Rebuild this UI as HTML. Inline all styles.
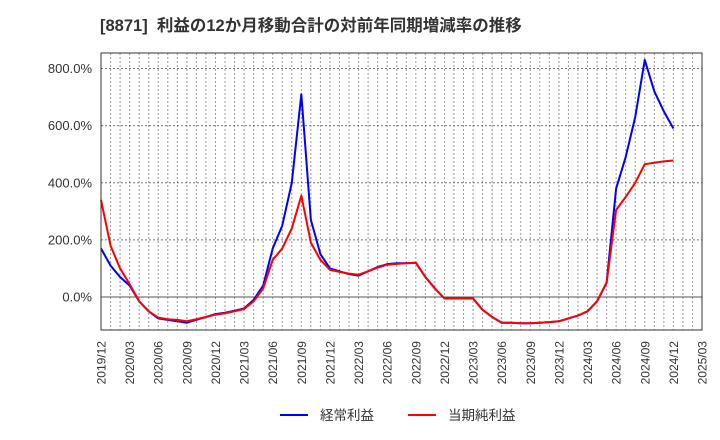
<!DOCTYPE html>
<html><head><meta charset="utf-8"><style>
body{margin:0;background:#fff;}
svg{display:block;font-family:"Liberation Sans","Noto Sans CJK JP",sans-serif;}
</style></head><body>
<svg id="chart" width="720" height="440">
<text x="100" y="31" font-size="16.5" font-weight="bold" fill="#333">[8871]&#160;&#160;利益の12か月移動合計の対前年同期増減率の推移</text>
<g id="grid"></g>
<g id="series"></g>
<rect x="101" y="53" width="601" height="277" fill="none" stroke="#333" stroke-width="1"/>
<g id="axes"></g>
<g>
<line x1="280" y1="415" x2="308" y2="415" stroke="#0000ff" stroke-width="2"/>
<text x="320" y="420" font-size="13.5" fill="#333">経常利益</text>
<line x1="408" y1="415" x2="436" y2="415" stroke="#ff0000" stroke-width="2"/>
<text x="448" y="420" font-size="13.5" fill="#333">当期純利益</text>
</g>
</svg>
<script>
const xTickLabels=["2019/12","2020/03","2020/06","2020/09","2020/12","2021/03","2021/06","2021/09","2021/12","2022/03","2022/06","2022/09","2022/12","2023/03","2023/06","2023/09","2023/12","2024/03","2024/06","2024/09","2024/12","2025/03"];
const yTicks=[0,200,400,600,800];
const ordinaryProfit=[170,110,70,40,-15,-50,-75,-80,-85,-90,-80,-70,-60,-55,-48,-40,-10,40,170,250,400,710,270,150,100,90,80,75,90,105,115,118,118,120,70,30,-5,-5,-5,-5,-45,-70,-90,-90,-92,-92,-90,-88,-85,-75,-65,-50,-15,50,380,490,630,830,720,650,590];
const netProfit=[340,180,100,45,-15,-50,-72,-78,-80,-85,-78,-70,-62,-57,-50,-42,-15,30,130,170,240,355,190,130,95,88,82,78,90,103,113,116,118,120,70,30,-5,-5,-5,-5,-45,-70,-90,-90,-92,-92,-90,-88,-85,-75,-65,-50,-15,50,305,350,400,465,470,475,478];
const X0=101,X1=702,TOTAL_MONTHS=63;
const xs=i=>X0+(X1-X0)*i/TOTAL_MONTHS;
const ys=v=>297-(v)*(297-68.5)/800;
const NS="http://www.w3.org/2000/svg";
const grid=document.getElementById('grid'),axes=document.getElementById('axes'),series=document.getElementById('series');
function mk(tag,attrs,parent){const e=document.createElementNS(NS,tag);for(const k in attrs)e.setAttribute(k,attrs[k]);parent.appendChild(e);return e;}
for(let m=1;m<TOTAL_MONTHS;m++){
 const l=mk('line',{x1:xs(m),x2:xs(m),y1:53,y2:330,stroke:'#999','stroke-dasharray':'2,2','stroke-width':1},grid);
 
 
}
yTicks.forEach(v=>{
 const l=mk('line',{x1:X0,x2:X1,y1:ys(v),y2:ys(v),stroke:v===0?'#555':'#777','stroke-dasharray':v===0?'':'2,2','stroke-width':1},grid);
 
 
 const t=mk('text',{x:92,y:ys(v)+4.5,'text-anchor':'end','font-size':13,fill:'#333'},axes);
 t.textContent=v.toFixed(1)+'%';
 
 
});
xTickLabels.forEach((s,i)=>{
 const x=xs(i*3);
 const t=mk('text',{x:0,y:0,transform:`translate(${x+4.5},341) rotate(-90)`,'text-anchor':'end','font-size':12,fill:'#333'},axes);
 t.textContent=s;
 
 
});
function line(data,color,name){
 const p=mk('polyline',{points:data.map((v,i)=>xs(i)+','+ys(v)).join(' '),fill:'none',stroke:color,'stroke-width':2,'stroke-linejoin':'round'},series);
 
 
}
line(ordinaryProfit,'#0000ff','ordinary-profit-line');
line(netProfit,'#ff0000','net-profit-line');
</script>
</body></html>
